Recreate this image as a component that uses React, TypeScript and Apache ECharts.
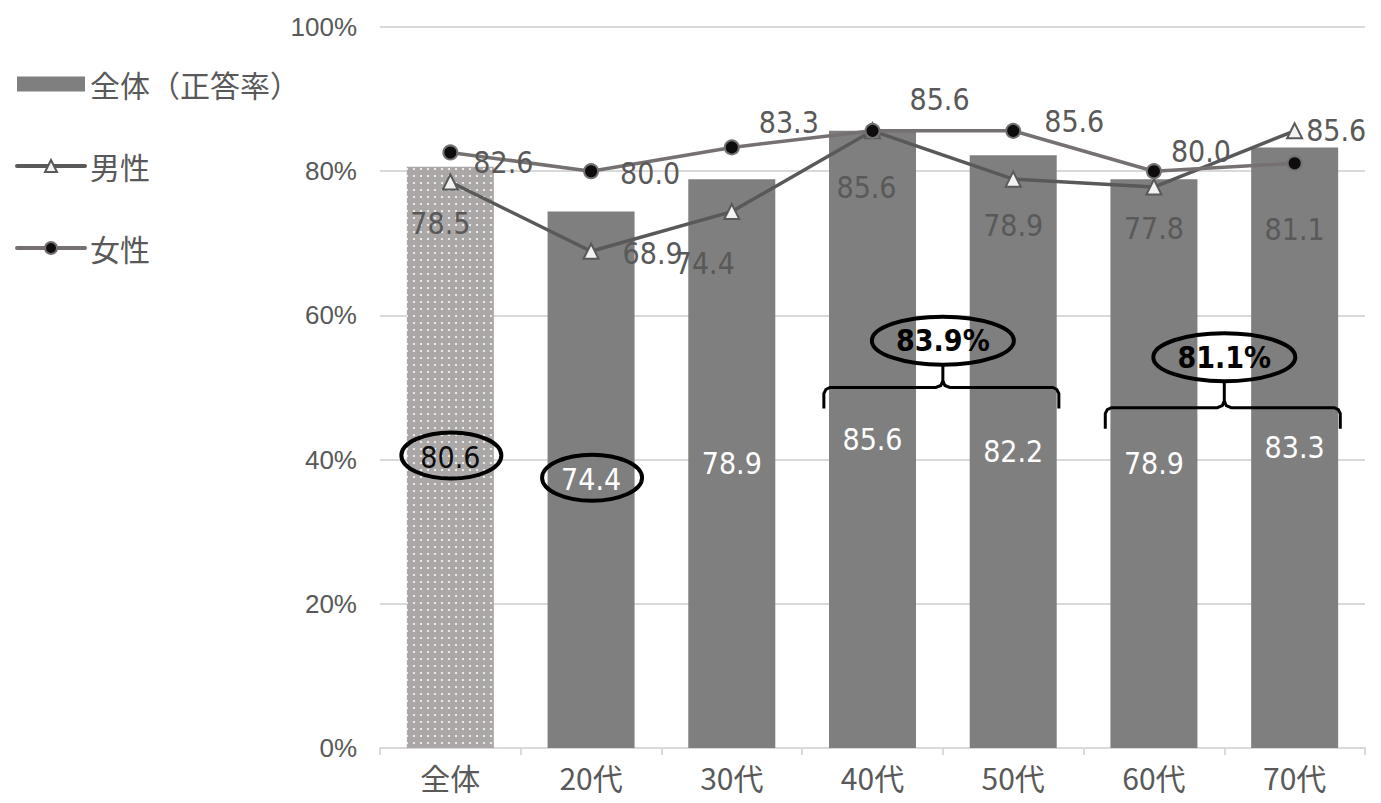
import React, { useEffect, useRef } from "react";
import * as echarts from "echarts";

const categories = ["全体", "20代", "30代", "40代", "50代", "60代", "70代"];
const overall = [80.6, 74.4, 78.9, 85.6, 82.2, 78.9, 83.3];
const male = [78.5, 68.9, 74.4, 85.6, 78.9, 77.8, 85.6];
const female = [82.6, 80.0, 83.3, 85.6, 85.6, 80.0, 81.1];
const groupAverages = [
  { from: 3, to: 4, text: "83.9%", braceY: 50.0, ellipseY: 56.5 },
  { from: 5, to: 6, text: "81.1%", braceY: 47.2, ellipseY: 54.2 },
];
const circledBars = [0, 1];

const NARROW = "'Liberation Sans Narrow', 'DejaVu Sans Condensed', 'Noto Sans CJK JP', sans-serif";
const CJK = "'Noto Sans CJK JP', sans-serif";

const femaleLabel = [
  { position: "right", offset: [10, 10] },
  { position: "right", offset: [16, 2] },
  { position: "right", offset: [14, -25] },
  { position: "right", offset: [24, -31] },
  { position: "right", offset: [18, -9] },
  { position: "right", offset: [4, -20] },
  { position: "bottom", offset: [0, 38] },
];
const maleLabel = [
  { position: "bottom", offset: [-10, 13] },
  { position: "right", offset: [18, 2] },
  { position: "bottom", offset: [-27, 23] },
  { position: "bottom", offset: [-6, 28] },
  { position: "bottom", offset: [0, 18] },
  { position: "bottom", offset: [0, 13] },
  { position: "right", offset: [-2, 0] },
];

export default function App() {
  const ref = useRef<HTMLDivElement>(null);
  useEffect(() => {
    if (!ref.current) return;
    const chart = echarts.init(ref.current, null, { renderer: "svg" });
    const labelBase = {
      show: true,
      fontSize: 30,
      fontFamily: NARROW,
      color: "#595959",
      formatter: (p: any) => Number(p.value).toFixed(1),
    };
    const option: any = {
      animation: false,
      backgroundColor: "#fff",
      grid: { left: 380, right: 16, top: 27, bottom: 55, containLabel: false },
      legend: {
        orient: "vertical",
        left: 10,
        top: 64,
        itemGap: 52,
        itemWidth: 68,
        itemHeight: 15,
        lineStyle: { width: 4, cap: "round" },
        textStyle: { fontSize: 30, color: "#595959", fontFamily: CJK },
        data: [
          { name: "全体（正答率）", icon: "rect" },
          { name: "男性", lineStyle: { width: 4, cap: "round" } },
          { name: "女性", lineStyle: { width: 4, cap: "round" } },
        ],
      },
      xAxis: {
        type: "category",
        data: categories,
        axisLine: { lineStyle: { color: "#d9d9d9", width: 2 } },
        axisTick: { show: true, length: 7, lineStyle: { color: "#d9d9d9", width: 2 } },
        axisLabel: { fontSize: 30, color: "#595959", fontFamily: CJK, margin: 14 },
      },
      yAxis: {
        type: "value",
        min: 0,
        max: 100,
        interval: 20,
        axisLine: { show: false },
        axisTick: { show: false },
        axisLabel: { formatter: "{value}%", fontSize: 26, color: "#595959", fontFamily: "'Liberation Sans', Arial, sans-serif", margin: 23 },
        splitLine: { lineStyle: { color: "#d9d9d9", width: 2 } },
      },
      series: [
        {
          name: "全体（正答率）",
          type: "bar",
          barWidth: 87,
          itemStyle: { color: "#7f7f7f" },
          label: { ...labelBase, position: "inside", color: "#fff" },
          data: overall.map((v, i) =>
            i === 0
              ? {
                  value: v,
                  itemStyle: {
                    color: "#aba7a7",
                    decal: {
                      symbol: "circle",
                      symbolSize: 1,
                      color: "rgba(255,255,255,0.9)",
                      dashArrayX: [2, 5],
                      dashArrayY: [2, 5],
                    },
                  },
                  label: { color: "#0d0d0d" },
                }
              : v
          ),
          z: 1,
        },
        {
          name: "男性",
          type: "line",
          symbol: "triangle",
          symbolSize: 15,
          lineStyle: { color: "#595959", width: 3.5 },
          itemStyle: { color: "#f2f2f2", borderColor: "#595959", borderWidth: 2 },
          data: male.map((v, i) => ({ value: v, label: { ...labelBase, ...maleLabel[i] } })),
          z: 3,
        },
        {
          name: "女性",
          type: "line",
          symbol: "circle",
          symbolSize: 14,
          lineStyle: { color: "#767171", width: 3.5 },
          itemStyle: { color: "#0d0d0d", borderColor: "#767171", borderWidth: 2 },
          data: female.map((v, i) => ({ value: v, label: { ...labelBase, ...femaleLabel[i] } })),
          z: 4,
        },
      ],
    };
    chart.setOption(option);

    const px = (i: number, v: number) => chart.convertToPixel({ xAxisIndex: 0, yAxisIndex: 0 }, [i, v]) as number[];
    const graphics: any[] = [];
    circledBars.forEach((i) => {
      const [cx, cy] = px(i, overall[i] / 2);
      graphics.push({
        type: "ellipse",
        z: 100,
        shape: { cx: cx + 1, cy: cy - 2, rx: 50, ry: 23 },
        style: { fill: "none", stroke: "#000", lineWidth: 4 },
      });
    });
    groupAverages.forEach((g) => {
      const [x1] = px(g.from, 0);
      const [x2] = px(g.to, 0);
      const mid = (x1 + x2) / 2;
      const [, yT] = px(g.from, g.braceY);
      const [, yE] = px(g.from, g.ellipseY);
      const xL = mid - 119;
      const xR = mid + 116;
      const top = yE + 25;
      graphics.push({
        type: "polyline",
        z: 100,
        shape: {
          points: [
            [xL, yT + 21], [xL, yT + 6], [xL + 2, yT + 2], [xL + 6, yT],
            [mid - 7, yT], [mid - 2, yT - 2], [mid, yT - 7], [mid, top],
            [mid, yT - 7], [mid + 2, yT - 2], [mid + 7, yT],
            [xR - 6, yT], [xR - 2, yT + 2], [xR, yT + 6], [xR, yT + 21],
          ],
        },
        style: { fill: "none", stroke: "#000", lineWidth: 3 },
      });
      graphics.push({
        type: "ellipse",
        z: 100,
        shape: { cx: mid, cy: yE, rx: 71, ry: 24 },
        style: { fill: "none", stroke: "#000", lineWidth: 4 },
      });
      graphics.push({
        type: "text",
        z: 101,
        x: mid,
        y: yE,
        style: {
          text: g.text,
          fontSize: 30,
          fontWeight: "bold",
          fontFamily: NARROW,
          fill: "#000",
          align: "center",
          verticalAlign: "middle",
        },
      });
    });
    chart.setOption({ graphic: graphics });
    return () => chart.dispose();
  }, []);
  return <div ref={ref} style={{ position: "absolute", left: 0, top: 0, width: 1381, height: 803 }} />;
}
